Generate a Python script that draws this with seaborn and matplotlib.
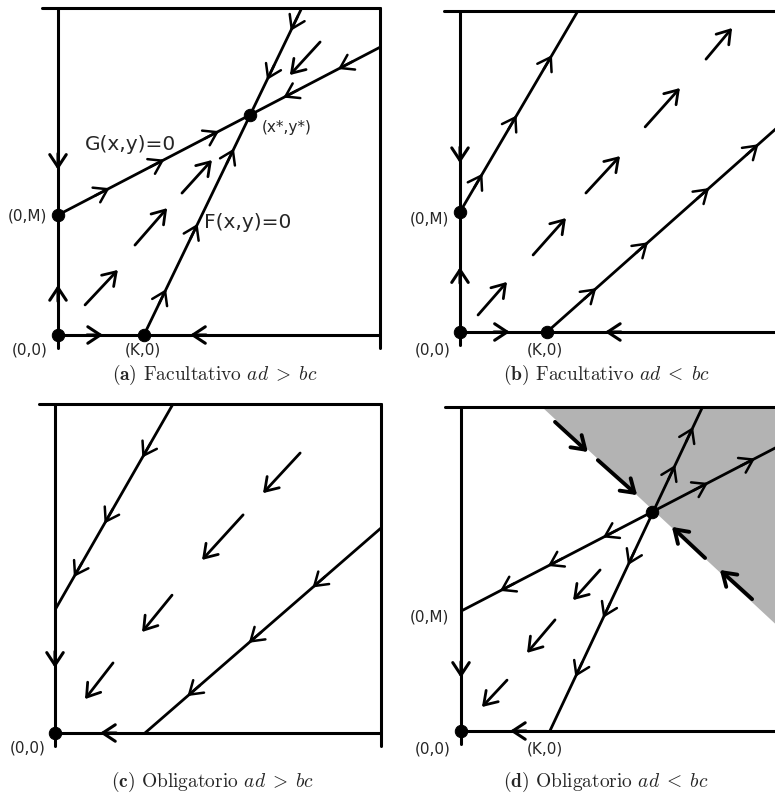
import matplotlib
matplotlib.use("Agg")
import numpy as np
import pandas as pd
import matplotlib.pyplot as plt
import seaborn as sns

sns.set_theme(style="white")
plt.rcParams['font.family'] = ['DejaVu Sans']
plt.rcParams['mathtext.fontset'] = 'cm'

# ---- data (unit square: x right, y up) ----
# (a) facultativo ad > bc
a_dots = [(0, 0), (0, 0.367), (0.267, 0), (0.596, 0.673)]
a_lines = [((0, 0.367), (1, 0.88)), ((0.267, 0), (0.757, 1))]
a_line_arrows = [[(0.16, 1), (0.33, 1), (0.50, 1), (0.70, -1), (0.87, -1)],
                 [(0.14, 1), (0.34, 1), (0.57, 1), (0.78, -1), (0.93, -1)]]
a_left_arrows = [(0.505, -1), (0.153, 1)]
a_bottom_arrows = [(0.14, 1), (0.41, -1)]
a_field = [((0.084, 0.092), (0.186, 0.199)), ((0.239, 0.275), (0.339, 0.388)),
           ((0.385, 0.434), (0.478, 0.535)), ((0.814, 0.896), (0.72, 0.795))]
a_labels = [("(0,0)", -0.087, -0.045), ("(K,0)", 0.264, -0.045), ("(0,M)", -0.095, 0.364),
            ("(x*,y*)", 0.71, 0.636)]
a_big_labels = [("G(x,y)=0", 0.225, 0.583), ("F(x,y)=0", 0.59, 0.343)]

# (b) facultativo ad < bc
b_dots = [(0, 0), (0, 0.374), (0.27, 0)]
b_lines = [((0, 0.374), (0.366, 1)), ((0.27, 0), (1, 0.65))]
b_line_arrows = [[(0.19, 1), (0.48, 1), (0.78, 1)],
                 [(0.21, 1), (0.43, 1), (0.69, 1), (0.90, 1)]]
b_left_arrows = [(0.526, -1), (0.202, 1)]
b_bottom_arrows = [(0.155, 1), (0.45, -1)]
b_field = [((0.056, 0.053), (0.146, 0.156)), ((0.227, 0.24), (0.329, 0.355)),
           ((0.391, 0.433), (0.497, 0.548)), ((0.575, 0.639), (0.683, 0.76)),
           ((0.764, 0.85), (0.845, 0.947))]
b_labels = [("(0,0)", -0.084, -0.055), ("(K,0)", 0.264, -0.055), ("(0,M)", -0.095, 0.352)]

# (c) obligatorio ad > bc
c_dots = [(0, 0)]
c_lines = [((0, 0.374), (0.362, 1)), ((0.276, 0), (1, 0.623))]
c_line_arrows = [[(0.74, -1), (0.42, -1), (0.16, -1)],
                 [(0.71, -1), (0.44, -1), (0.18, -1)]]
c_left_arrows = [(0.198, -1)]
c_bottom_arrows = [(0.138, -1)]
c_field = [((0.752, 0.851), (0.638, 0.729)), ((0.577, 0.663), (0.451, 0.526)),
           ((0.359, 0.419), (0.267, 0.307)), ((0.178, 0.213), (0.092, 0.103))]
c_labels = [("(0,0)", -0.083, -0.045)]

# (d) obligatorio ad < bc
d_dots = [(0, 0), (0.593, 0.676)]
d_lines = [((0, 0.37), (1, 0.886)), ((0.276, 0), (0.75, 1))]
d_line_arrows = [[(0.441, -1), (0.270, -1), (0.121, -1), (0.767, 1), (0.913, 1)],
                 [(0.512, -1), (0.349, -1), (0.167, -1), (0.821, 1), (0.938, 1)]]
d_left_arrows = [(0.164, -1)]
d_bottom_arrows = [(0.152, -1)]
d_field = [((0.432, 0.497), (0.348, 0.404)), ((0.292, 0.343), (0.205, 0.241)),
           ((0.143, 0.157), (0.065, 0.074))]
d_separatrix = [((0.292, 0.954), (0.394, 0.861)), ((0.425, 0.836), (0.547, 0.728)),
                ((0.904, 0.407), (0.804, 0.497)), ((0.758, 0.534), (0.655, 0.63))]
d_shade_x = [0.25, 1.0, 1.0]
d_shade_y = [1.0, 1.0, 0.31]
d_labels = [("(0,M)", -0.098, 0.352), ("(0,0)", -0.087, -0.055), ("(K,0)", 0.261, -0.055)]

captions = [r"$\mathbf{(a)}$ Facultativo $ad\;>\;bc$", r"$\mathbf{(b)}$ Facultativo $ad\;<\;bc$",
            r"$\mathbf{(c)}$ Obligatorio $ad\;>\;bc$", r"$\mathbf{(d)}$ Obligatorio $ad\;<\;bc$"]

# ---- layout (reference pixels) ----
W, H = 775, 796
boxes = {"a": (58, 335, 322, 327), "b": (460, 332, 322, 321),
         "c": (55, 733, 326, 329), "d": (461, 731, 322, 324)}
cap_pos = [(215, 375), (606, 375), (213, 782), (606, 782)]

fig = plt.figure(figsize=(W / 100, H / 100), dpi=100)

HEAD = "->,head_length=0.5,head_width=0.33"
MS = 18


def make_ax(key):
    x0, yb, w, h = boxes[key]
    ax = fig.add_axes([x0 / W, 1 - yb / H, w / W, h / H])
    ax.set_xlim(0, 1)
    ax.set_ylim(0, 1)
    ax.axis("off")
    # frame drawn by hand so the edges stick out a little
    kw = dict(color="black", lw=2.2, clip_on=False)
    ax.plot([-0.05, 1], [1, 1], **kw)
    ax.plot([0, 0], [1, -0.04], **kw)
    ax.plot([1, 1], [1, -0.04], **kw)
    ax.plot([-0.01, 1], [0, 0], **kw)
    return ax


def head(ax, p0, p1, t, sgn, lw=1.8):
    p0, p1 = np.array(p0), np.array(p1)
    d = (p1 - p0) / np.linalg.norm(p1 - p0) * sgn
    tip = p0 + t * (p1 - p0)
    ax.annotate("", xy=tip, xytext=tip - 0.05 * d,
                arrowprops=dict(arrowstyle=HEAD, lw=lw, color="black",
                                shrinkA=0, shrinkB=0, mutation_scale=MS))


def draw(ax, dots, lines, line_arrows, left_arrows, bottom_arrows, field, labels):
    for (p0, p1), arrs in zip(lines, line_arrows):
        df = pd.DataFrame({"x": [p0[0], p1[0]], "y": [p0[1], p1[1]]})
        sns.lineplot(data=df, x="x", y="y", sort=False, estimator=None,
                     color="black", lw=2, ax=ax)
        for t, s in arrs:
            head(ax, p0, p1, t, s)
    for t, s in left_arrows:
        head(ax, (0, 0), (0, 1), t, s, lw=2.2)
    for t, s in bottom_arrows:
        head(ax, (0, 0), (1, 0), t, s, lw=2.2)
    for st, en in field:
        ax.annotate("", xy=en, xytext=st,
                    arrowprops=dict(arrowstyle=HEAD, lw=2, color="black",
                                    shrinkA=0, shrinkB=0, mutation_scale=MS))
    dd = pd.DataFrame(dots, columns=["x", "y"])
    sns.scatterplot(data=dd, x="x", y="y", color="black", s=80, ax=ax,
                    zorder=5, clip_on=False, edgecolor="black")
    for txt, x, y in labels:
        ax.text(x, y, txt, fontsize=11, ha="center", va="center", clip_on=False)
    ax.set_xlim(0, 1)
    ax.set_ylim(0, 1)
    ax.axis("off")


ax_a = make_ax("a")
draw(ax_a, a_dots, a_lines, a_line_arrows, a_left_arrows, a_bottom_arrows, a_field, a_labels)
for txt, x, y in a_big_labels:
    ax_a.text(x, y, txt, fontsize=14.5, ha="center", va="center")

ax_b = make_ax("b")
draw(ax_b, b_dots, b_lines, b_line_arrows, b_left_arrows, b_bottom_arrows, b_field, b_labels)

ax_c = make_ax("c")
draw(ax_c, c_dots, c_lines, c_line_arrows, c_left_arrows, c_bottom_arrows, c_field, c_labels)

ax_d = make_ax("d")
ax_d.fill(d_shade_x, d_shade_y, color="#b3b3b3", lw=0, zorder=0)
draw(ax_d, d_dots, d_lines, d_line_arrows, d_left_arrows, d_bottom_arrows, d_field, d_labels)
for st, en in d_separatrix:
    ax_d.annotate("", xy=en, xytext=st,
                  arrowprops=dict(arrowstyle=HEAD, lw=2.8, color="black",
                                  shrinkA=0, shrinkB=0, mutation_scale=MS))

for cap, (cx, cy) in zip(captions, cap_pos):
    fig.text(cx / W, 1 - cy / H, cap, fontfamily="cmr10", fontsize=14,
             ha="center", va="center")

fig.savefig("out.png", dpi=100)
